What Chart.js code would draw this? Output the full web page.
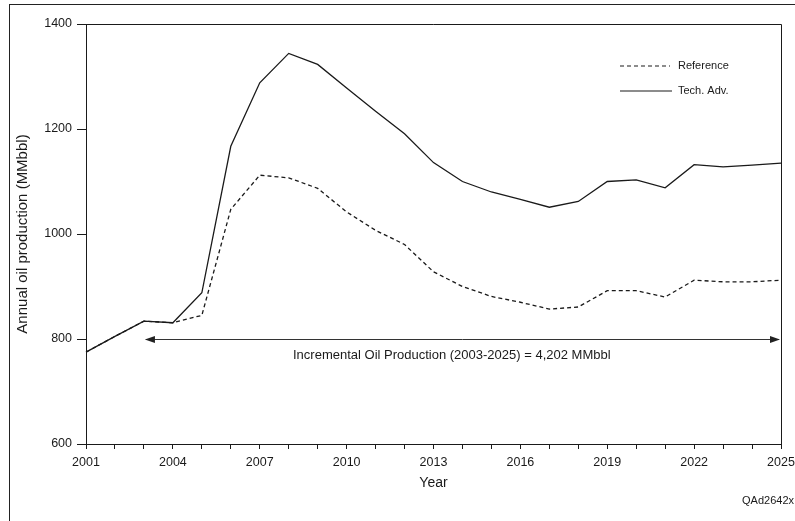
<!DOCTYPE html>
<html>
<head>
<meta charset="utf-8">
<script src="https://cdn.jsdelivr.net/npm/chart.js@4.4.1/dist/chart.umd.min.js"></script>
<style>
  html, body { margin: 0; padding: 0; background: #fff; }
  #wrap { position: relative; width: 795px; height: 521px; }
  #frame { position: absolute; left: 9px; top: 4px; right: 0; bottom: 0; border-left: 1px solid #222; border-top: 1px solid #222; }
</style>
</head>
<body>
<div id="wrap">
  <div id="frame"></div>
  <canvas id="oil-chart" width="795" height="521"></canvas>
</div>
<script>
var years = ['2001', '2002', '2003', '2004', '2005', '2006', '2007', '2008', '2009', '2010', '2011', '2012',
             '2013', '2014', '2015', '2016', '2017', '2018', '2019', '2020', '2021', '2022', '2023', '2024', '2025'];
var reference = [775, 805, 834, 831, 845, 1047, 1112, 1107, 1087, 1042, 1007, 980,
                 928, 900, 881, 870, 857, 861, 892, 892, 880, 912, 909, 909, 912];
var techAdv = [775, 805, 834, 831, 888, 1167, 1288, 1344, 1323, 1278, 1234, 1191,
               1136, 1100, 1080, 1066, 1051, 1062, 1100, 1103, 1088, 1132, 1128, 1131, 1135];
var yTicks = [600, 800, 1000, 1200, 1400];

var annotation = 'Incremental Oil Production (2003-2025) = 4,202 MMbbl';
var FONT = '"Liberation Sans", Arial, sans-serif';
var INK = '#1a1a1a';

// border, arrow, legend and footnote drawn on top
var extras = {
    id: 'extras',
    afterDraw: function(chart) {
        var c = chart.ctx;
        var area = chart.chartArea;
        var x = chart.scales.x;
        var y = chart.scales.y;
        c.save();

        // top and right border of the plot
        c.strokeStyle = INK;
        c.lineWidth = 1;
        c.beginPath();
        c.moveTo(area.left, area.top + 0.5);
        c.lineTo(area.right + 0.5, area.top + 0.5);
        c.lineTo(area.right + 0.5, area.bottom);
        c.stroke();

        // double arrow at 800
        var ay = Math.round(y.getPixelForValue(800)) + 0.5;
        var x1 = x.getPixelForValue(2);
        var x2 = x.getPixelForValue(24);
        c.strokeStyle = '#333';
        c.beginPath();
        c.moveTo(x1 + 2, ay);
        c.lineTo(x2 - 2, ay);
        c.stroke();
        c.fillStyle = '#222';
        c.beginPath();
        c.moveTo(x1 + 1, ay);
        c.lineTo(x1 + 11, ay - 3.5);
        c.lineTo(x1 + 11, ay + 3.5);
        c.closePath();
        c.fill();
        c.beginPath();
        c.moveTo(x2 - 1, ay);
        c.lineTo(x2 - 11, ay - 3.5);
        c.lineTo(x2 - 11, ay + 3.5);
        c.closePath();
        c.fill();

        c.font = '13px ' + FONT;
        c.fillStyle = INK;
        c.textBaseline = 'middle';
        c.textAlign = 'left';
        c.fillText(annotation, 293, ay + 16);

        // legend
        var lx = 620, lw = 50;
        c.font = '11px ' + FONT;
        c.lineWidth = 1.2;
        c.strokeStyle = INK;
        c.setLineDash([4, 3]);
        c.beginPath();
        c.moveTo(lx, 66);
        c.lineTo(lx + lw, 66);
        c.stroke();
        c.setLineDash([]);
        c.beginPath();
        c.moveTo(lx, 91);
        c.lineTo(lx + lw + 2, 91);
        c.stroke();
        c.fillText(chart.data.datasets[0].label, 678, 66);
        c.fillText(chart.data.datasets[1].label, 678, 91);

        // figure code
        c.textAlign = 'right';
        c.fillText('QAd2642x', 794, 501);
        c.restore();
    }
};

const ctx = document.getElementById('oil-chart');

var oilChart = new Chart(ctx, {
    type: 'line',
    data: {
        labels: years,
        datasets: [{
            label: 'Reference',
            data: reference,
            borderColor: INK,
            borderWidth: 1.3,
            borderDash: [4, 3],
            pointRadius: 0,
            tension: 0
        }, {
            label: 'Tech. Adv.',
            data: techAdv,
            borderColor: INK,
            borderWidth: 1.3,
            pointRadius: 0,
            tension: 0
        }]
    },
    options: {
        responsive: false,
        animation: false,
        layout: {
            padding: { top: 24, right: 14, left: 0, bottom: 25 }
        },
        plugins: {
            legend: { display: false },
            tooltip: { enabled: false }
        },
        scales: {
            x: {
                grid: {
                    drawOnChartArea: false,
                    color: INK,
                    tickLength: 5
                },
                border: { color: INK },
                ticks: {
                    autoSkip: false,
                    maxRotation: 0,
                    color: INK,
                    padding: 6,
                    font: { family: FONT, size: 12.5 },
                    callback: function(val, index) {
                        return index % 3 === 0 ? years[index] : '';
                    }
                },
                title: {
                    display: true,
                    text: 'Year',
                    color: INK,
                    padding: { top: 4 },
                    font: { family: FONT, size: 14 }
                },
                afterFit: function(scale) {
                    scale.height = 52;
                    scale.paddingLeft = 0;
                    scale.paddingRight = 0;
                }
            },
            y: {
                min: 600,
                max: 1400,
                afterBuildTicks: function(scale) {
                    scale.ticks = yTicks.map(function(v) { return { value: v }; });
                },
                grid: {
                    drawOnChartArea: false,
                    color: INK,
                    tickLength: 9
                },
                border: { color: INK },
                ticks: {
                    color: INK,
                    padding: 5,
                    font: { family: FONT, size: 12.5 },
                    callback: function(val) { return String(val); }
                },
                title: {
                    display: true,
                    text: 'Annual oil production (MMbbl)',
                    color: INK,
                    padding: { top: 14 },
                    font: { family: FONT, size: 15 }
                },
                afterFit: function(scale) { scale.width = 86; }
            }
        }
    },
    plugins: [extras]
});
</script>
</body>
</html>
